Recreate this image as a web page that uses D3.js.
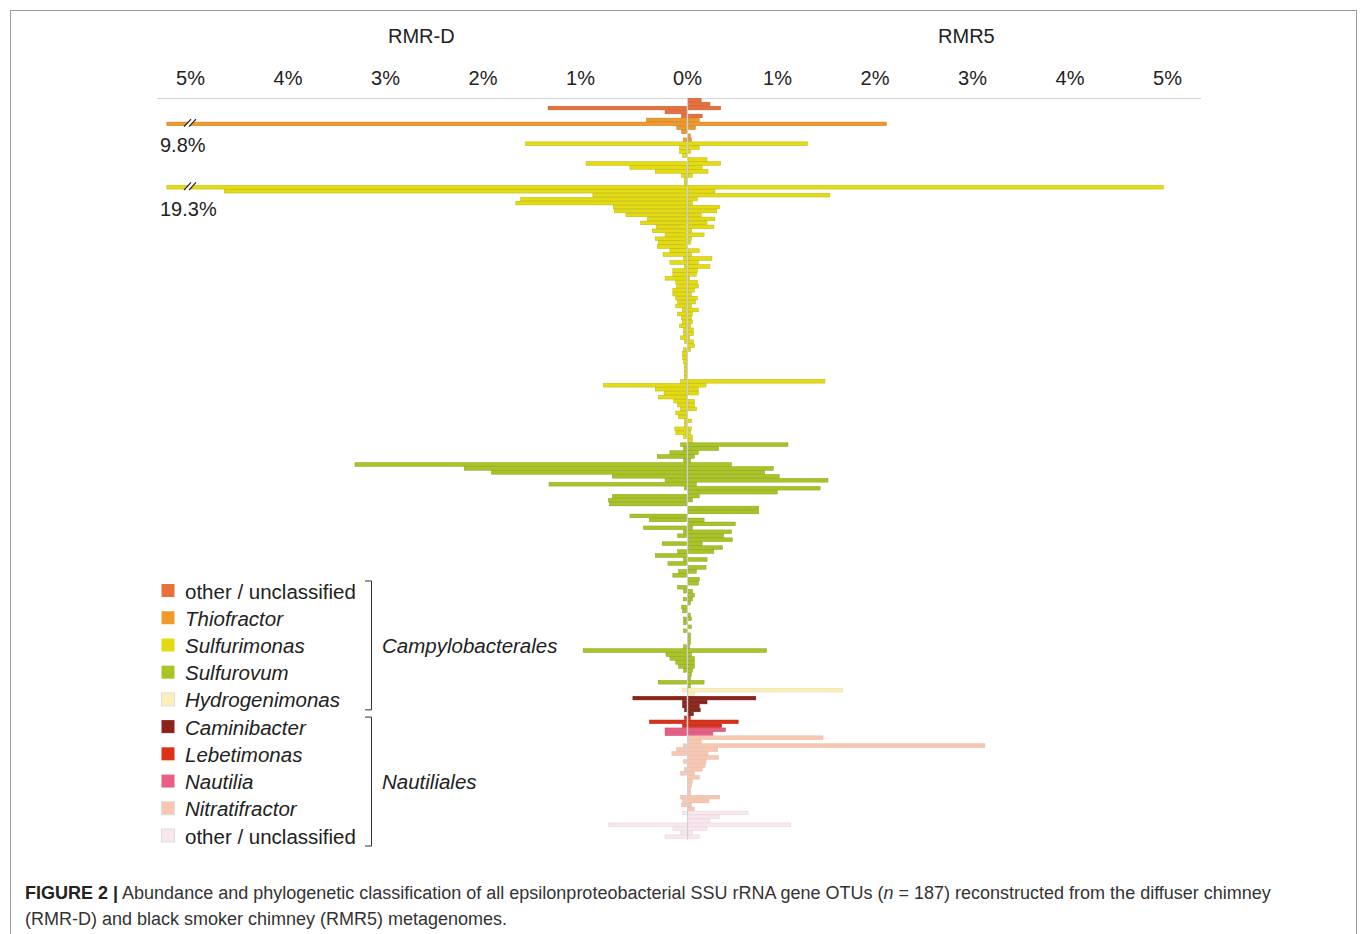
<!DOCTYPE html>
<html>
<head>
<meta charset="utf-8">
<script src="https://cdn.jsdelivr.net/npm/d3@7"></script>
<style>
  body { margin: 0; background: #fff; }
  svg { display: block; font-family: "Liberation Sans", Arial, sans-serif; }
</style>
</head>
<body>
<div id="chart"></div>
<script>
// genera in plot order (top to bottom) and how many OTU rows each has
const genera = ["other / unclassified", "Thiofractor", "Sulfurimonas", "Sulfurovum", "Hydrogenimonas",
  "Caminibacter", "Lebetimonas", "Nautilia", "Nitratifractor", "other / unclassified"]
const italic = [false, true, true, true, true, true, true, true, true, false]
const otuCounts = [5, 6, 76, 62, 2, 5, 3, 2, 19, 7]
const orders = ["Campylobacterales", "Nautiliales"]
const orderSpan = [[0, 4], [5, 9]]   // legend rows covered by each bracket
const palette = ["#e9703a", "#f09a2b", "#e4dc10", "#a9c424", "#fcf0b8",
  "#8c2419", "#dc3119", "#ea5e86", "#f8c7b2", "#fae6ef"]

// relative abundance (%) per OTU, RMR-D (left) and RMR5 (right)
const rmrD = [
  0, 0, 1.42, 0.22, 0.05,
  0.41, 9.8, 0.10, 0.05, 0, 0.03,
  1.65, 0.07, 0.07, 0.04, 0, 1.03, 0.58, 0.32, 0.05, 0.02, 0.02, 19.3, 4.74, 0.96, 1.70, 1.75,
  0.75, 0.74, 0.62, 0.40, 0.47, 0.31, 0.35, 0.22, 0.32, 0.29, 0.30, 0.17, 0.24, 0.03, 0.17, 0.02,
  0.14, 0.14, 0.22, 0.11, 0.10, 0.14, 0.14, 0.11, 0.09, 0.11, 0.04, 0.09, 0.05, 0.04, 0.07, 0.03,
  0.03, 0.06, 0.02, 0, 0.03, 0.04, 0.04, 0.03, 0.02, 0.02, 0.02, 0.02, 0.06, 0.85, 0.32, 0.23,
  0.29, 0.13, 0.09, 0.06, 0.11, 0.08, 0.02, 0.02, 0.12, 0.11, 0.03, 0,
  0.06, 0.03, 0.17, 0.30, 0.03, 3.40, 2.28, 2.00, 0.76, 0.22, 1.41, 0.02, 0, 0.76, 0.80, 0.79,
  0, 0, 0.58, 0.38, 0, 0.44, 0.03, 0.09, 0, 0.25, 0, 0.09, 0.32, 0.03, 0.19, 0, 0.08, 0.14,
  0, 0, 0.09, 0.03, 0, 0.03, 0, 0.05, 0.04, 0, 0.03, 0.03, 0, 0.03, 0, 0, 0, 0.03, 1.06, 0.21,
  0.17, 0.11, 0.08, 0.03, 0, 0, 0.29, 0,
  0.04, 0,
  0.55, 0.04, 0.04, 0.02, 0,
  0.02, 0.38, 0.04,
  0.22, 0.22,
  0, 0, 0.03, 0.10, 0.15, 0, 0.03, 0, 0.02, 0.06, 0, 0, 0, 0, 0, 0.06, 0.04, 0.05, 0,
  0.04, 0, 0, 0.80, 0.14, 0.06, 0.22
]
const rmr5 = [
  0.13, 0.22, 0.33, 0, 0.14,
  0.11, 2.03, 0.07, 0, 0.02, 0.03,
  1.22, 0.11, 0.02, 0, 0.19, 0.33, 0.14, 0.20, 0.04, 0, 0, 4.87, 0.27, 1.45, 0.09, 0.04,
  0.32, 0.29, 0.13, 0.27, 0.19, 0.26, 0.03, 0.16, 0.03, 0.02, 0, 0.11, 0.03, 0.24, 0.10, 0.22,
  0.09, 0.08, 0.01, 0.09, 0.10, 0.06, 0.03, 0.09, 0.07, 0.03, 0.10, 0.04, 0.03, 0.04, 0.02, 0.05,
  0.05, 0.01, 0.05, 0.06, 0.02, 0, 0, 0, 0, 0, 0, 0, 1.40, 0.18, 0.10, 0.10,
  0, 0.06, 0.06, 0.08, 0, 0, 0.03, 0, 0.03, 0.02, 0.04, 0.04,
  1.02, 0.31, 0.10, 0.06, 0.02, 0.44, 0.87, 0.78, 0.93, 1.43, 0.08, 1.35, 0.91, 0.11, 0.04, 0,
  0.72, 0.72, 0, 0.16, 0.48, 0.04, 0.44, 0.36, 0.45, 0.14, 0.35, 0.26, 0, 0.19, 0, 0.18, 0.08, 0,
  0.11, 0.10, 0, 0.04, 0.06, 0.04, 0.02, 0, 0, 0.02, 0.03, 0, 0.03, 0, 0.02, 0.02, 0.02, 0.01, 0.80, 0.03,
  0.06, 0.06, 0.06, 0.04, 0.03, 0.02, 0.16, 0.02,
  1.58, 0.06,
  0.69, 0.19, 0.11, 0.12, 0.05,
  0.02, 0.51, 0.34,
  0.38, 0.25,
  1.38, 0.13, 3.04, 0.30, 0.20, 0.31, 0.18, 0.17, 0.14, 0.06, 0.11, 0.04, 0.03, 0.02, 0.02, 0.32, 0.21, 0.03, 0.06,
  0.61, 0.32, 0.22, 1.05, 0.19, 0.04, 0.11
]
const tickValues = [1, 2, 3, 4, 5]
const samples = ["RMR-D", "RMR5"]

const width = 1360, height = 934
const svg = d3.select("#chart").append("svg")
  .attr("width", width).attr("height", height)

// frame
svg.append("rect")
  .attr("x", 10.5).attr("y", 10.5).attr("width", 1346).attr("height", 1000)
  .attr("fill", "none").attr("stroke", "#9a9a9a")

const rowGenus = otuCounts.flatMap((n, g) => d3.range(n).map(() => g))
const rows = rowGenus.map((g, i) => ({ i, g, left: rmrD[i], right: rmr5[i] }))

const axisMax = 5, clampMax = 5.33
const xL = d3.scaleLinear().domain([0, axisMax]).range([686.5, 199])
const xR = d3.scaleLinear().domain([0, axisMax]).range([688.5, 1176])
const y = d3.scaleBand().domain(d3.range(rows.length)).range([98.3, 98.3 + rows.length * 3.96])

// sample headers
svg.selectAll("text.sample")
  .data(samples)
  .join("text")
  .attr("x", (d, i) => i === 0 ? xL(2.72) : xR(2.85))
  .attr("y", 43)
  .attr("text-anchor", "middle")
  .attr("font-size", 20)
  .attr("fill", "#222")
  .text(d => d)

// axes (labels only)
const fmt = d => d + "%"
const axL = svg.append("g").attr("transform", "translate(0,85)")
  .call(d3.axisTop(xL).tickValues(tickValues).tickFormat(fmt).tickSize(0))
const axR = svg.append("g").attr("transform", "translate(0,85)")
  .call(d3.axisTop(xR).tickValues(tickValues).tickFormat(fmt).tickSize(0))
for (const ax of [axL, axR]) {
  ax.select(".domain").remove()
  ax.selectAll("text").attr("dx", -9).attr("y", 0).attr("dy", 0)
    .attr("font-size", 20).attr("font-family", "Liberation Sans, Arial, sans-serif").attr("fill", "#222")
}
svg.append("text")
  .attr("x", (xL(0) + xR(0)) / 2).attr("y", 85)
  .attr("text-anchor", "middle").attr("font-size", 20).attr("fill", "#222")
  .text(fmt(0))

svg.append("line")
  .attr("x1", 157).attr("x2", 1201).attr("y1", 98.5).attr("y2", 98.5)
  .attr("stroke", "#d4d4d4")

// bars
const barH = y.bandwidth() - 0.3
const strokeOf = g => d3.color(palette[g]).darker(g === 4 || g >= 8 ? 0.25 : 0.6)

svg.append("g").selectAll("rect")
  .data(rows.filter(d => d.left > 0))
  .join("rect")
  .attr("x", d => xL(Math.min(d.left, clampMax)))
  .attr("y", d => y(d.i))
  .attr("width", d => xL(0) - xL(Math.min(d.left, clampMax)))
  .attr("height", barH)
  .attr("fill", d => palette[d.g])
  .attr("stroke", d => strokeOf(d.g))
  .attr("stroke-width", 0.5)

svg.append("g").selectAll("rect")
  .data(rows.filter(d => d.right > 0))
  .join("rect")
  .attr("x", xR(0))
  .attr("y", d => y(d.i))
  .attr("width", d => xR(Math.min(d.right, clampMax)) - xR(0))
  .attr("height", barH)
  .attr("fill", d => palette[d.g])
  .attr("stroke", d => strokeOf(d.g))
  .attr("stroke-width", 0.5)

// axis breaks for values beyond the scale
const broken = rows.filter(d => d.left > clampMax)
const brk = svg.append("g").selectAll("g").data(broken).join("g")
brk.append("polygon")
  .attr("points", d => {
    const t = y(d.i) - 1, b = y(d.i) + barH + 1
    return [[184, b], [190, t], [195, t], [189, b]].map(p => p.join(",")).join(" ")
  })
  .attr("fill", "#fff")
for (const off of [0, 5]) {
  brk.append("line")
    .attr("x1", 184 + off).attr("y1", d => y(d.i) + barH + 1)
    .attr("x2", 191 + off).attr("y2", d => y(d.i) - 3)
    .attr("stroke", "#111").attr("stroke-width", 1.1)
}
brk.append("text")
  .attr("x", 160).attr("y", d => y(d.i) + barH + 26.5)
  .attr("font-size", 20).attr("fill", "#222")
  .text(d => fmt(d.left))

// centre line
svg.append("line")
  .attr("x1", 687.5).attr("x2", 687.5)
  .attr("y1", 98).attr("y2", y.range()[1] + 1)
  .attr("stroke", "#d0d0d0").attr("stroke-width", 1)

// legend
const ly = d3.scaleLinear().domain([0, 9]).range([591, 836])
const leg = svg.append("g").selectAll("g").data(genera).join("g")
  .attr("transform", (d, i) => `translate(0,${ly(i)})`)
leg.append("rect")
  .attr("x", 161.5).attr("y", -7).attr("width", 13).attr("height", 13)
  .attr("fill", (d, i) => palette[i])
  .attr("stroke", (d, i) => i === 4 || i >= 8 ? "#ddd" : "none")
leg.append("text")
  .attr("x", 185).attr("y", 7.5)
  .attr("font-size", 20.5).attr("fill", "#222")
  .attr("font-style", (d, i) => italic[i] ? "italic" : "normal")
  .text(d => d)

orders.forEach((name, k) => {
  const [a, b] = orderSpan[k]
  const top = ly(a) - 10, bot = ly(b) + 10
  svg.append("path")
    .attr("d", `M365,${top}H371.5V${bot}H365`)
    .attr("fill", "none").attr("stroke", "#333").attr("stroke-width", 1)
  svg.append("text")
    .attr("x", 382).attr("y", ly((a + b) / 2) + 7.5)
    .attr("font-size", 20.5).attr("font-style", "italic").attr("fill", "#222")
    .text(name)
})

// caption
const cap = svg.append("g").attr("font-size", 18).attr("fill", "#333")
const l1 = cap.append("text").attr("x", 25).attr("y", 899)
l1.append("tspan").attr("font-weight", "bold").attr("fill", "#222").text("FIGURE 2 |")
l1.append("tspan").text(" Abundance and phylogenetic classification of all epsilonproteobacterial SSU rRNA gene OTUs (")
l1.append("tspan").attr("font-style", "italic").text("n")
l1.append("tspan").text(" = 187) reconstructed from the diffuser chimney")
cap.append("text").attr("x", 25).attr("y", 925)
  .text("(RMR-D) and black smoker chimney (RMR5) metagenomes.")
</script>
</body>
</html>
